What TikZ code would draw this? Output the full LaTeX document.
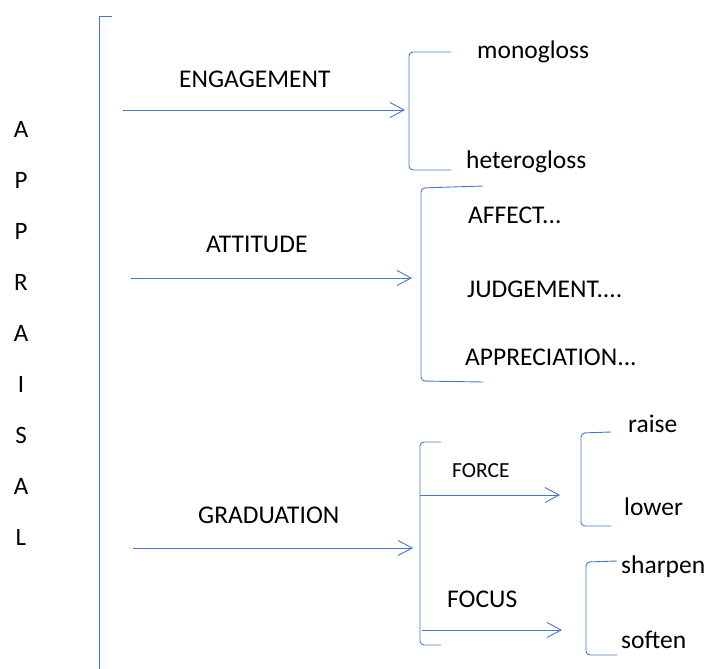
\documentclass[tikz,border=0pt]{standalone}
\usepackage{fontspec}
\setmainfont{Carlito}
\usetikzlibrary{arrows.meta}
\definecolor{lineblue}{RGB}{72,118,204}
\begin{document}
\begin{tikzpicture}[x=1pt,y=-1pt,
  conn/.style={draw=lineblue,line width=0.9pt},
  arr/.style={conn,-{Straight Barb[length=14pt,width=15pt,line width=0.9pt]}},
  brk/.style={conn,rounded corners=4pt},
  lbl/.style={inner sep=0pt,anchor=base west,font=\fontsize{25.5}{30}\selectfont},
  sml/.style={lbl,font=\fontsize{21.5}{26}\selectfont},
  vert/.style={inner sep=0pt,anchor=base,font=\fontsize{25}{30}\selectfont}]
\useasboundingbox (0,0) rectangle (705,669);

% vertical title
\foreach \ch [count=\i] in {A,P,P,R,A,I,S,A,L}
  \node[vert] (t\i) at (21,{138+50.9*(\i-1)}) {\ch};

% main bracket
\coordinate (mtop) at (112,16);
\coordinate (mbot) at (99,669);
\draw[conn] (mtop) -- (99,16) -- (mbot);

% ENGAGEMENT
\node[lbl] (eng) at (179,88) {ENGAGEMENT};
\coordinate (e0) at (123,110);
\coordinate (e1) at (405,110);
\draw[arr] (e0) -- (e1);
\draw[brk] (451,52) -- (409,52) -- (409,170) -- (451,170);
\node[lbl] (mono) at (477,59) {monogloss};
\node[lbl] (hetero) at (466,168) {heterogloss};

% ATTITUDE
\node[lbl] (att) at (206,252) {ATTITUDE};
\coordinate (a0) at (131,278);
\coordinate (a1) at (412,278);
\draw[arr] (a0) -- (a1);
\draw[brk] (483,186) -- (421,188) -- (421,381) -- (483,382);
\node[lbl] (aff) at (468,223) {AFFECT...};
\node[lbl] (jud) at (467,297) {JUDGEMENT....};
\node[lbl] (app) at (465,365) {APPRECIATION...};

% GRADUATION
\node[lbl] (grad) at (198,523) {GRADUATION};
\coordinate (g0) at (133,548);
\coordinate (g1) at (413,548);
\draw[arr] (g0) -- (g1);
\draw[brk] (441,442) -- (420,442) -- (420,645) -- (441,645);

% FORCE
\node[sml] (force) at (452,477) {FORCE};
\coordinate (f0) at (420,495);
\coordinate (f1) at (560,495);
\draw[arr] (f0) -- (f1);
\draw[brk] (611,432) -- (581,433) -- (581,526) -- (611,526);
\node[lbl] (raise) at (628,432) {raise};
\node[lbl] (lower) at (624,515) {lower};

% FOCUS
\node[lbl] (focus) at (447,607) {FOCUS};
\coordinate (c0) at (422,630);
\coordinate (c1) at (562,630);
\draw[arr] (c0) -- (c1);
\draw[brk] (617,561) -- (586,562) -- (586,655) -- (617,655);
\node[lbl] (sharp) at (621,573) {sharpen};
\node[lbl] (soft) at (621,648) {soften};
\end{tikzpicture}
\end{document}
